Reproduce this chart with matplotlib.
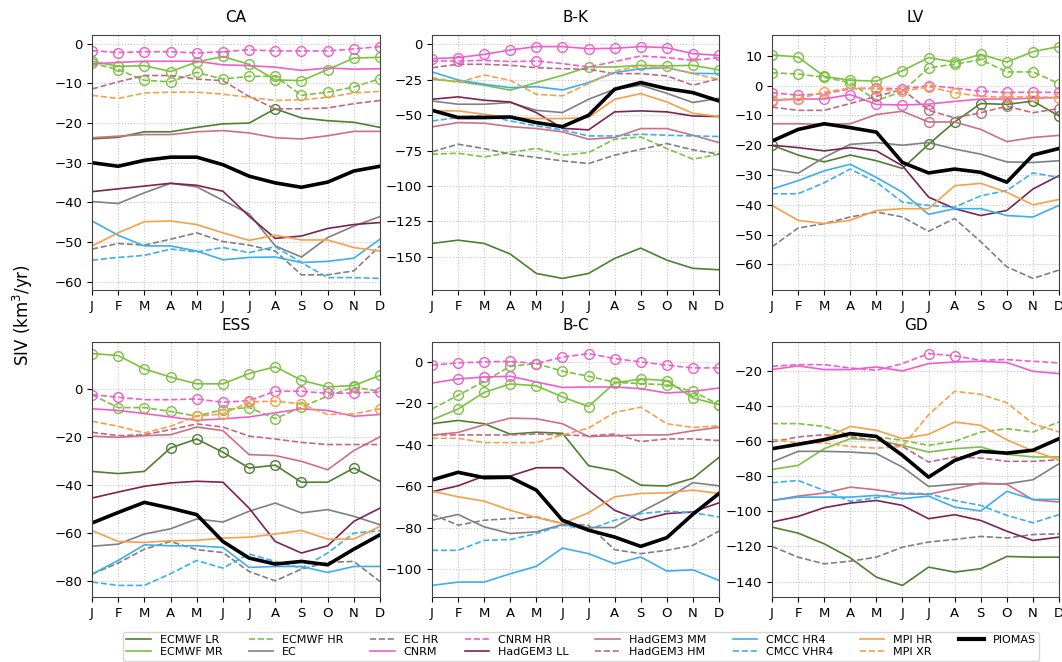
import matplotlib
matplotlib.use('Agg')
import matplotlib.pyplot as plt
from matplotlib.lines import Line2D

months = ['J', 'F', 'M', 'A', 'M', 'J', 'J', 'A', 'S', 'O', 'N', 'D']
ALL = list(range(12))

# model list: (name, colour, linestyle, linewidth)
models = [
    ('ECMWF LR', '#4f7f33', '-', 1.2),
    ('ECMWF MR', '#7cc242', '-', 1.2),
    ('ECMWF HR', '#7cc242', '--', 1.2),
    ('EC', '#808080', '-', 1.2),
    ('EC HR', '#808080', '--', 1.2),
    ('CNRM', '#ef5fcb', '-', 1.2),
    ('CNRM HR', '#ef5fcb', '--', 1.2),
    ('HadGEM3 LL', '#7a2451', '-', 1.2),
    ('HadGEM3 MM', '#cc7088', '-', 1.2),
    ('HadGEM3 HM', '#c06a82', '--', 1.2),
    ('CMCC HR4', '#3daef0', '-', 1.2),
    ('CMCC VHR4', '#3daef0', '--', 1.2),
    ('MPI HR', '#f7a048', '-', 1.2),
    ('MPI XR', '#f7a048', '--', 1.2),
    ('PIOMAS', 'black', '-', 2.6),
]

ca_siv = {
    'ECMWF LR': [-24.0, -23.6, -22.2, -22.2, -21.1, -20.2, -20.0, -16.4, -18.7, -19.4, -19.8, -21.1],
    'ECMWF MR': [-4.4, -5.7, -5.5, -7.0, -4.6, -3.2, -5.2, -9.1, -9.3, -6.5, -3.6, -3.4],
    'ECMWF HR': [-4.9, -6.5, -9.2, -9.6, -7.2, -8.9, -8.2, -8.2, -13.0, -12.2, -10.9, -8.8],
    'EC': [-39.8, -40.3, -37.6, -35.2, -36.1, -39.5, -42.9, -51.0, -53.8, -48.9, -46.0, -43.6],
    'EC HR': [-51.8, -50.4, -50.8, -49.3, -47.7, -49.9, -50.8, -52.3, -58.3, -58.3, -57.3, -51.0],
    'CNRM': [-5.1, -4.7, -4.4, -4.4, -4.4, -5.3, -5.5, -5.9, -6.7, -6.1, -6.4, -6.3],
    'CNRM HR': [-1.7, -2.2, -2.0, -2.0, -2.3, -2.0, -1.5, -1.8, -1.8, -1.8, -1.3, -0.7],
    'HadGEM3 LL': [-37.3, -36.6, -35.9, -35.2, -35.7, -37.2, -43.5, -49.1, -48.5, -46.6, -45.6, -45.1],
    'HadGEM3 MM': [-23.7, -23.3, -22.9, -22.9, -22.2, -21.9, -22.5, -23.7, -24.0, -23.2, -22.1, -22.1],
    'HadGEM3 HM': [-11.4, -9.6, -8.0, -8.0, -8.9, -9.3, -13.3, -16.4, -16.4, -16.2, -15.1, -14.3],
    'CMCC HR4': [-44.7, -48.3, -51.0, -51.0, -52.3, -54.5, -53.9, -53.8, -55.2, -54.9, -54.1, -49.3],
    'CMCC VHR4': [-54.6, -53.9, -53.4, -51.8, -52.5, -51.4, -52.7, -51.2, -55.2, -59.0, -59.0, -59.2],
    'MPI HR': [-51.0, -47.7, -44.9, -44.7, -45.6, -47.7, -49.6, -48.3, -49.5, -49.5, -51.4, -52.3],
    'MPI XR': [-13.0, -13.8, -12.4, -12.2, -12.2, -12.7, -13.5, -14.3, -14.1, -13.5, -12.4, -12.0],
    'PIOMAS': [-30.0, -30.9, -29.4, -28.6, -28.6, -30.5, -33.4, -35.1, -36.2, -34.9, -32.1, -30.9],
}
ca_sig = {'ECMWF LR': [7], 'ECMWF MR': ALL, 'ECMWF HR': ALL, 'CNRM HR': ALL}

bk_siv = {
    'ECMWF LR': [-140.6, -138.3, -140.6, -148.1, -161.8, -165.3, -161.8, -151.2, -143.9, -152.4, -158.2, -159.2],
    'ECMWF MR': [-24.7, -26.3, -28.9, -32.4, -27.0, -21.9, -16.0, -16.0, -14.8, -15.3, -14.8, -18.1],
    'ECMWF HR': [-77.6, -76.9, -79.5, -76.4, -73.4, -78.3, -76.4, -67.0, -65.4, -73.6, -81.1, -77.6],
    'EC': [-40.0, -42.3, -42.3, -41.1, -46.6, -48.2, -38.8, -31.7, -28.9, -34.6, -41.1, -38.1],
    'EC HR': [-75.9, -70.5, -73.6, -77.6, -79.9, -82.3, -84.2, -78.3, -74.1, -70.1, -74.5, -77.6],
    'CNRM': [-10.1, -9.4, -7.1, -4.0, -1.6, -1.6, -3.1, -2.8, -1.6, -2.4, -6.6, -7.8],
    'CNRM HR': [-11.8, -11.8, -11.3, -12.2, -11.8, -13.6, -16.0, -12.2, -8.2, -9.4, -11.3, -9.4],
    'HadGEM3 LL': [-38.8, -37.1, -39.5, -40.7, -48.2, -59.3, -60.4, -47.7, -47.0, -47.7, -50.6, -51.0],
    'HadGEM3 MM': [-58.3, -55.3, -55.7, -58.1, -59.5, -61.8, -67.0, -65.8, -59.5, -59.5, -64.2, -69.4],
    'HadGEM3 HM': [-16.5, -14.1, -14.1, -14.8, -16.5, -17.2, -17.6, -20.7, -20.7, -22.3, -28.9, -24.2],
    'CMCC HR4': [-19.5, -25.2, -28.2, -30.6, -29.9, -32.2, -27.0, -20.0, -17.2, -16.5, -20.5, -20.7],
    'CMCC VHR4': [-54.1, -51.7, -50.1, -54.1, -57.6, -60.4, -64.7, -64.7, -63.5, -64.2, -64.7, -65.1],
    'MPI HR': [-47.0, -47.0, -49.4, -51.7, -52.4, -52.4, -51.7, -38.8, -34.8, -40.7, -48.7, -51.0],
    'MPI XR': [-23.5, -27.0, -21.6, -25.4, -35.3, -36.4, -27.7, -18.8, -15.3, -16.5, -20.7, -24.7],
    'PIOMAS': [-46.6, -51.7, -51.7, -51.3, -55.3, -58.1, -50.1, -31.7, -27.0, -31.3, -34.1, -40.0],
}
bk_sig = {'ECMWF MR': [6, 8, 9, 10, 11], 'CNRM': ALL, 'CNRM HR': [1, 4]}

lv_siv = {
    'ECMWF LR': [-20.0, -23.3, -25.6, -23.3, -25.2, -27.8, -19.7, -12.2, -6.0, -6.3, -5.2, -10.2],
    'ECMWF MR': [10.3, 9.6, 3.1, 1.8, 1.5, 5.0, 9.4, 7.9, 10.5, 7.9, 11.4, 13.1],
    'ECMWF HR': [4.3, 3.9, 2.8, 1.0, -5.0, -2.0, 6.0, 7.2, 8.7, 4.6, 4.6, 0.7],
    'EC': [-28.0, -29.4, -24.1, -19.7, -19.1, -20.0, -19.1, -21.3, -23.0, -25.6, -25.8, -25.2],
    'EC HR': [-54.1, -47.8, -46.3, -44.1, -42.4, -44.1, -48.9, -44.6, -52.4, -60.8, -64.7, -61.9],
    'CNRM': [-5.0, -4.5, -4.5, -3.0, -6.3, -6.5, -6.2, -5.3, -4.5, -4.5, -4.2, -4.0],
    'CNRM HR': [-2.4, -3.2, -2.7, -1.1, -0.8, -1.1, 0.0, -0.8, -1.9, -2.3, -2.2, -2.3],
    'HadGEM3 LL': [-20.0, -20.8, -21.9, -20.8, -21.9, -26.9, -37.4, -41.3, -43.6, -41.9, -34.7, -30.2],
    'HadGEM3 MM': [-12.8, -12.8, -13.0, -12.8, -9.7, -8.6, -12.2, -12.2, -14.7, -18.8, -17.4, -16.7],
    'HadGEM3 HM': [-7.2, -8.3, -8.3, -6.0, -3.6, -1.3, -8.3, -10.8, -9.1, -6.9, -9.1, -7.7],
    'CMCC HR4': [-34.7, -31.9, -28.6, -26.4, -30.8, -35.8, -43.2, -41.3, -41.3, -43.6, -44.1, -40.2],
    'CMCC VHR4': [-36.3, -36.3, -32.6, -28.0, -32.4, -39.1, -40.2, -40.8, -37.0, -35.2, -29.3, -30.8],
    'MPI HR': [-40.2, -45.2, -46.3, -45.2, -41.9, -41.3, -41.3, -33.6, -32.8, -35.8, -40.0, -38.2],
    'MPI XR': [-4.7, -4.4, -2.2, -0.8, -1.1, -1.9, -0.4, -2.4, -3.6, -3.9, -3.6, -4.1],
    'PIOMAS': [-18.6, -14.7, -12.8, -14.1, -15.6, -25.8, -29.3, -28.0, -29.1, -32.4, -23.3, -21.1],
}
lv_sig = {'ECMWF LR': [0, 6, 7, 8, 9, 10, 11], 'ECMWF MR': ALL,
          'ECMWF HR': [0, 1, 2, 3, 6, 7, 8, 9, 10, 11], 'CNRM': [0, 1, 2, 3, 4, 5, 6],
          'CNRM HR': [0, 1, 4, 5, 6, 8, 9, 10, 11], 'HadGEM3 MM': [6],
          'HadGEM3 HM': [4, 6, 8, 9, 11], 'MPI XR': [0, 1, 2, 4, 5, 6, 7, 9, 10, 11]}

ess_siv = {
    'ECMWF LR': [-34.4, -35.3, -34.4, -24.6, -20.9, -26.4, -33.0, -31.8, -38.9, -38.9, -33.0, -38.5],
    'ECMWF MR': [14.7, 13.9, 8.3, 4.9, 2.1, 2.1, 6.4, 9.2, 3.6, 0.8, 1.4, 5.6],
    'ECMWF HR': [-2.5, -7.8, -7.8, -9.4, -11.4, -8.6, -7.8, -12.4, -7.6, -3.0, 0.7, -1.0],
    'EC': [-65.6, -64.7, -60.5, -58.3, -54.2, -55.5, -51.0, -47.6, -51.7, -50.3, -53.1, -56.6],
    'EC HR': [-77.2, -72.6, -66.8, -63.6, -67.0, -68.2, -76.1, -80.0, -75.1, -72.3, -71.9, -80.3],
    'CNRM': [-8.3, -9.0, -10.3, -11.7, -13.1, -12.5, -11.7, -10.0, -8.3, -9.0, -11.4, -10.7],
    'CNRM HR': [-2.4, -3.5, -4.5, -4.5, -4.2, -5.6, -4.9, -1.0, -1.0, -1.9, -1.7, -1.3],
    'HadGEM3 LL': [-45.5, -43.0, -40.6, -39.2, -38.5, -38.9, -49.7, -63.6, -68.4, -65.4, -55.2, -49.7],
    'HadGEM3 MM': [-19.7, -20.2, -19.5, -19.1, -15.9, -17.4, -27.4, -27.8, -30.2, -33.7, -25.7, -20.0],
    'HadGEM3 HM': [-18.1, -19.5, -19.1, -17.0, -14.6, -15.9, -19.7, -20.9, -22.3, -23.2, -23.2, -23.2],
    'CMCC HR4': [-77.2, -71.5, -65.0, -65.4, -65.4, -66.1, -74.4, -74.0, -74.0, -76.5, -74.0, -74.0],
    'CMCC VHR4': [-80.5, -81.9, -81.9, -77.0, -71.5, -74.7, -68.8, -71.9, -74.7, -68.4, -60.1, -59.1],
    'MPI HR': [-59.0, -63.6, -64.0, -63.3, -63.1, -62.2, -61.8, -60.5, -59.0, -62.6, -62.6, -57.3],
    'MPI XR': [-13.5, -15.6, -18.4, -15.6, -11.4, -10.4, -5.5, -5.1, -6.3, -10.7, -10.4, -8.3],
    'PIOMAS': [-55.9, -51.5, -47.3, -49.7, -52.4, -63.6, -70.5, -73.0, -71.9, -73.3, -66.8, -60.8],
}
ess_sig = {'ECMWF LR': [3, 4, 5, 6, 7, 8, 10], 'ECMWF MR': ALL,
           'ECMWF HR': [1, 2, 3, 4, 5, 6, 7, 8, 10], 'CNRM HR': [0, 1, 4, 5, 6, 7, 8, 9, 10, 11],
           'MPI XR': [4, 5, 6, 7, 8, 11]}

bc_siv = {
    'ECMWF LR': [-29.8, -28.2, -29.8, -34.8, -33.9, -34.4, -50.0, -52.4, -59.4, -59.8, -56.1, -46.0],
    'ECMWF MR': [-27.9, -22.7, -14.7, -10.6, -11.5, -16.9, -21.5, -10.2, -8.2, -9.0, -17.4, -20.6],
    'ECMWF HR': [-22.7, -16.1, -9.4, -2.1, -0.8, -4.5, -6.9, -9.8, -10.5, -11.0, -14.2, -20.6],
    'EC': [-76.3, -73.5, -79.5, -82.7, -81.9, -78.4, -79.8, -79.8, -72.3, -65.8, -58.2, -59.7],
    'EC HR': [-73.4, -78.7, -76.3, -75.5, -74.7, -77.9, -78.7, -90.5, -92.4, -90.8, -88.4, -81.5],
    'CNRM': [-10.2, -8.2, -7.3, -6.9, -9.7, -12.3, -12.1, -12.1, -12.9, -15.0, -14.2, -12.6],
    'CNRM HR': [-1.6, -0.5, 0.0, 0.3, -0.8, 2.3, 4.0, 1.6, 0.0, -1.6, -2.9, -2.9],
    'HadGEM3 LL': [-62.6, -59.7, -55.0, -55.0, -51.0, -51.0, -61.8, -71.5, -76.3, -73.1, -72.3, -67.9],
    'HadGEM3 MM': [-35.2, -34.0, -30.3, -27.1, -27.4, -29.8, -36.0, -35.6, -35.2, -35.2, -33.2, -31.5],
    'HadGEM3 HM': [-35.2, -35.2, -35.2, -35.2, -34.7, -35.2, -35.6, -34.8, -38.4, -37.1, -37.1, -37.9],
    'CMCC HR4': [-107.7, -106.1, -106.1, -102.1, -98.5, -89.7, -92.4, -97.3, -94.0, -100.8, -100.2, -105.3],
    'CMCC VHR4': [-90.8, -90.8, -86.0, -85.6, -82.7, -78.7, -80.8, -76.3, -73.1, -71.9, -72.7, -74.7],
    'MPI HR': [-62.3, -65.0, -67.1, -71.5, -75.0, -77.9, -72.7, -65.0, -63.4, -63.1, -61.8, -63.4],
    'MPI XR': [-36.8, -36.8, -38.9, -38.9, -38.9, -35.2, -31.9, -24.4, -21.8, -29.8, -31.6, -30.8],
    'PIOMAS': [-56.9, -53.2, -55.8, -55.6, -61.8, -76.3, -81.1, -84.4, -88.9, -84.7, -73.4, -63.4],
}
bc_sig = {'ECMWF MR': ALL[1:], 'ECMWF HR': ALL[1:], 'CNRM': [1, 2, 3], 'CNRM HR': ALL}

gd_siv = {
    'ECMWF LR': [-109.0, -112.4, -118.5, -126.5, -137.5, -142.2, -131.8, -134.6, -132.7, -125.7, -126.1, -126.1],
    'ECMWF MR': [-76.1, -73.8, -64.3, -58.6, -59.5, -62.4, -66.2, -64.3, -63.3, -67.5, -69.0, -69.0],
    'ECMWF HR': [-50.0, -50.0, -51.6, -56.7, -57.6, -59.5, -62.4, -60.1, -54.8, -52.9, -54.8, -49.1],
    'EC': [-71.9, -65.8, -65.8, -66.2, -67.1, -74.8, -85.8, -84.6, -84.3, -84.3, -82.0, -72.9],
    'EC HR': [-120.0, -126.1, -129.9, -128.4, -126.1, -120.4, -117.5, -116.0, -114.3, -115.2, -113.2, -112.8],
    'CNRM': [-19.2, -17.1, -19.2, -19.2, -17.7, -20.0, -15.8, -14.9, -14.5, -15.2, -20.2, -21.5],
    'CNRM HR': [-17.3, -16.4, -16.4, -18.3, -19.6, -15.8, -10.1, -11.4, -13.9, -13.5, -14.5, -15.4],
    'HadGEM3 LL': [-106.1, -102.9, -97.9, -95.3, -93.8, -96.6, -104.2, -101.9, -105.2, -111.3, -116.6, -114.7],
    'HadGEM3 MM': [-93.8, -91.3, -89.6, -86.2, -87.7, -90.0, -90.3, -87.1, -83.9, -84.6, -93.4, -94.7],
    'HadGEM3 HM': [-60.5, -57.6, -56.3, -57.6, -59.5, -63.0, -71.9, -69.0, -69.6, -71.5, -71.5, -70.6],
    'CMCC HR4': [-93.8, -91.9, -91.9, -91.9, -90.9, -92.8, -91.3, -97.6, -99.8, -88.6, -93.2, -93.2],
    'CMCC VHR4': [-83.7, -82.4, -88.1, -94.3, -92.2, -89.6, -90.0, -93.8, -96.6, -102.3, -106.5, -101.9],
    'MPI HR': [-64.3, -61.4, -58.6, -51.6, -53.8, -58.6, -56.1, -49.1, -51.0, -59.2, -65.6, -70.6],
    'MPI XR': [-59.0, -61.0, -61.0, -63.0, -64.0, -63.0, -45.0, -31.6, -33.3, -38.1, -50.0, -54.8],
    'PIOMAS': [-64.3, -61.8, -59.2, -55.7, -57.3, -68.1, -80.5, -71.0, -65.8, -66.8, -65.2, -58.6],
}
gd_sig = {'CNRM HR': [6, 7]}

regions = [
    ('CA', ca_siv, ca_sig), ('B-K', bk_siv, bk_sig), ('LV', lv_siv, lv_sig),
    ('ESS', ess_siv, ess_sig), ('B-C', bc_siv, bc_sig), ('GD', gd_siv, gd_sig),
]

W, H = 1062, 662
fig = plt.figure(figsize=(W / 100, H / 100), dpi=100)

# panel boxes in pixels: left, top, right, bottom
col_x = [(92, 380), (432, 719), (772, 1059)]
row_y = [(35, 290), (342, 597)]

x = list(range(12))
for i, (title, siv, sig) in enumerate(regions):
    (x0, x1), (y0, y1) = col_x[i % 3], row_y[i // 3]
    ax = fig.add_axes([x0 / W, 1 - y1 / H, (x1 - x0) / W, (y1 - y0) / H])
    for name, color, ls, lw in models:
        kw = {}
        if name in sig:
            kw = dict(marker='o', markevery=sig[name], mfc='none', mec=color,
                      ms=7, mew=1.0)
        ax.plot(x, siv[name], color=color, ls=ls, lw=lw, **kw)
    ax.set_xlim(0, 11)
    ax.set_xticks(x)
    ax.set_xticklabels(months)
    ax.tick_params(labelsize=9.5)
    ax.grid(True, ls=':', color='#c8c8c8', lw=0.8)
    ax.set_title(title, fontsize=11, pad=9)
    for s in ax.spines.values():
        s.set_color('#444444')

fig.text(0.022, 0.524, 'SIV (km$^3$/yr)', rotation=90, va='center', ha='center', fontsize=12)

handles = [Line2D([], [], color=c, ls=ls, lw=(3.0 if n == 'PIOMAS' else 1.2))
           for n, c, ls, lw in models]
labels = [m[0] for m in models]
fig.legend(handles, labels, loc='lower center', ncol=8, fontsize=8.0,
           bbox_to_anchor=(0.547, 0.002), frameon=True, edgecolor='#cccccc',
           columnspacing=2.4, handlelength=2.2, labelspacing=0.2, borderpad=0.3,
           borderaxespad=0.0)

fig.savefig('out.png', dpi=100)
